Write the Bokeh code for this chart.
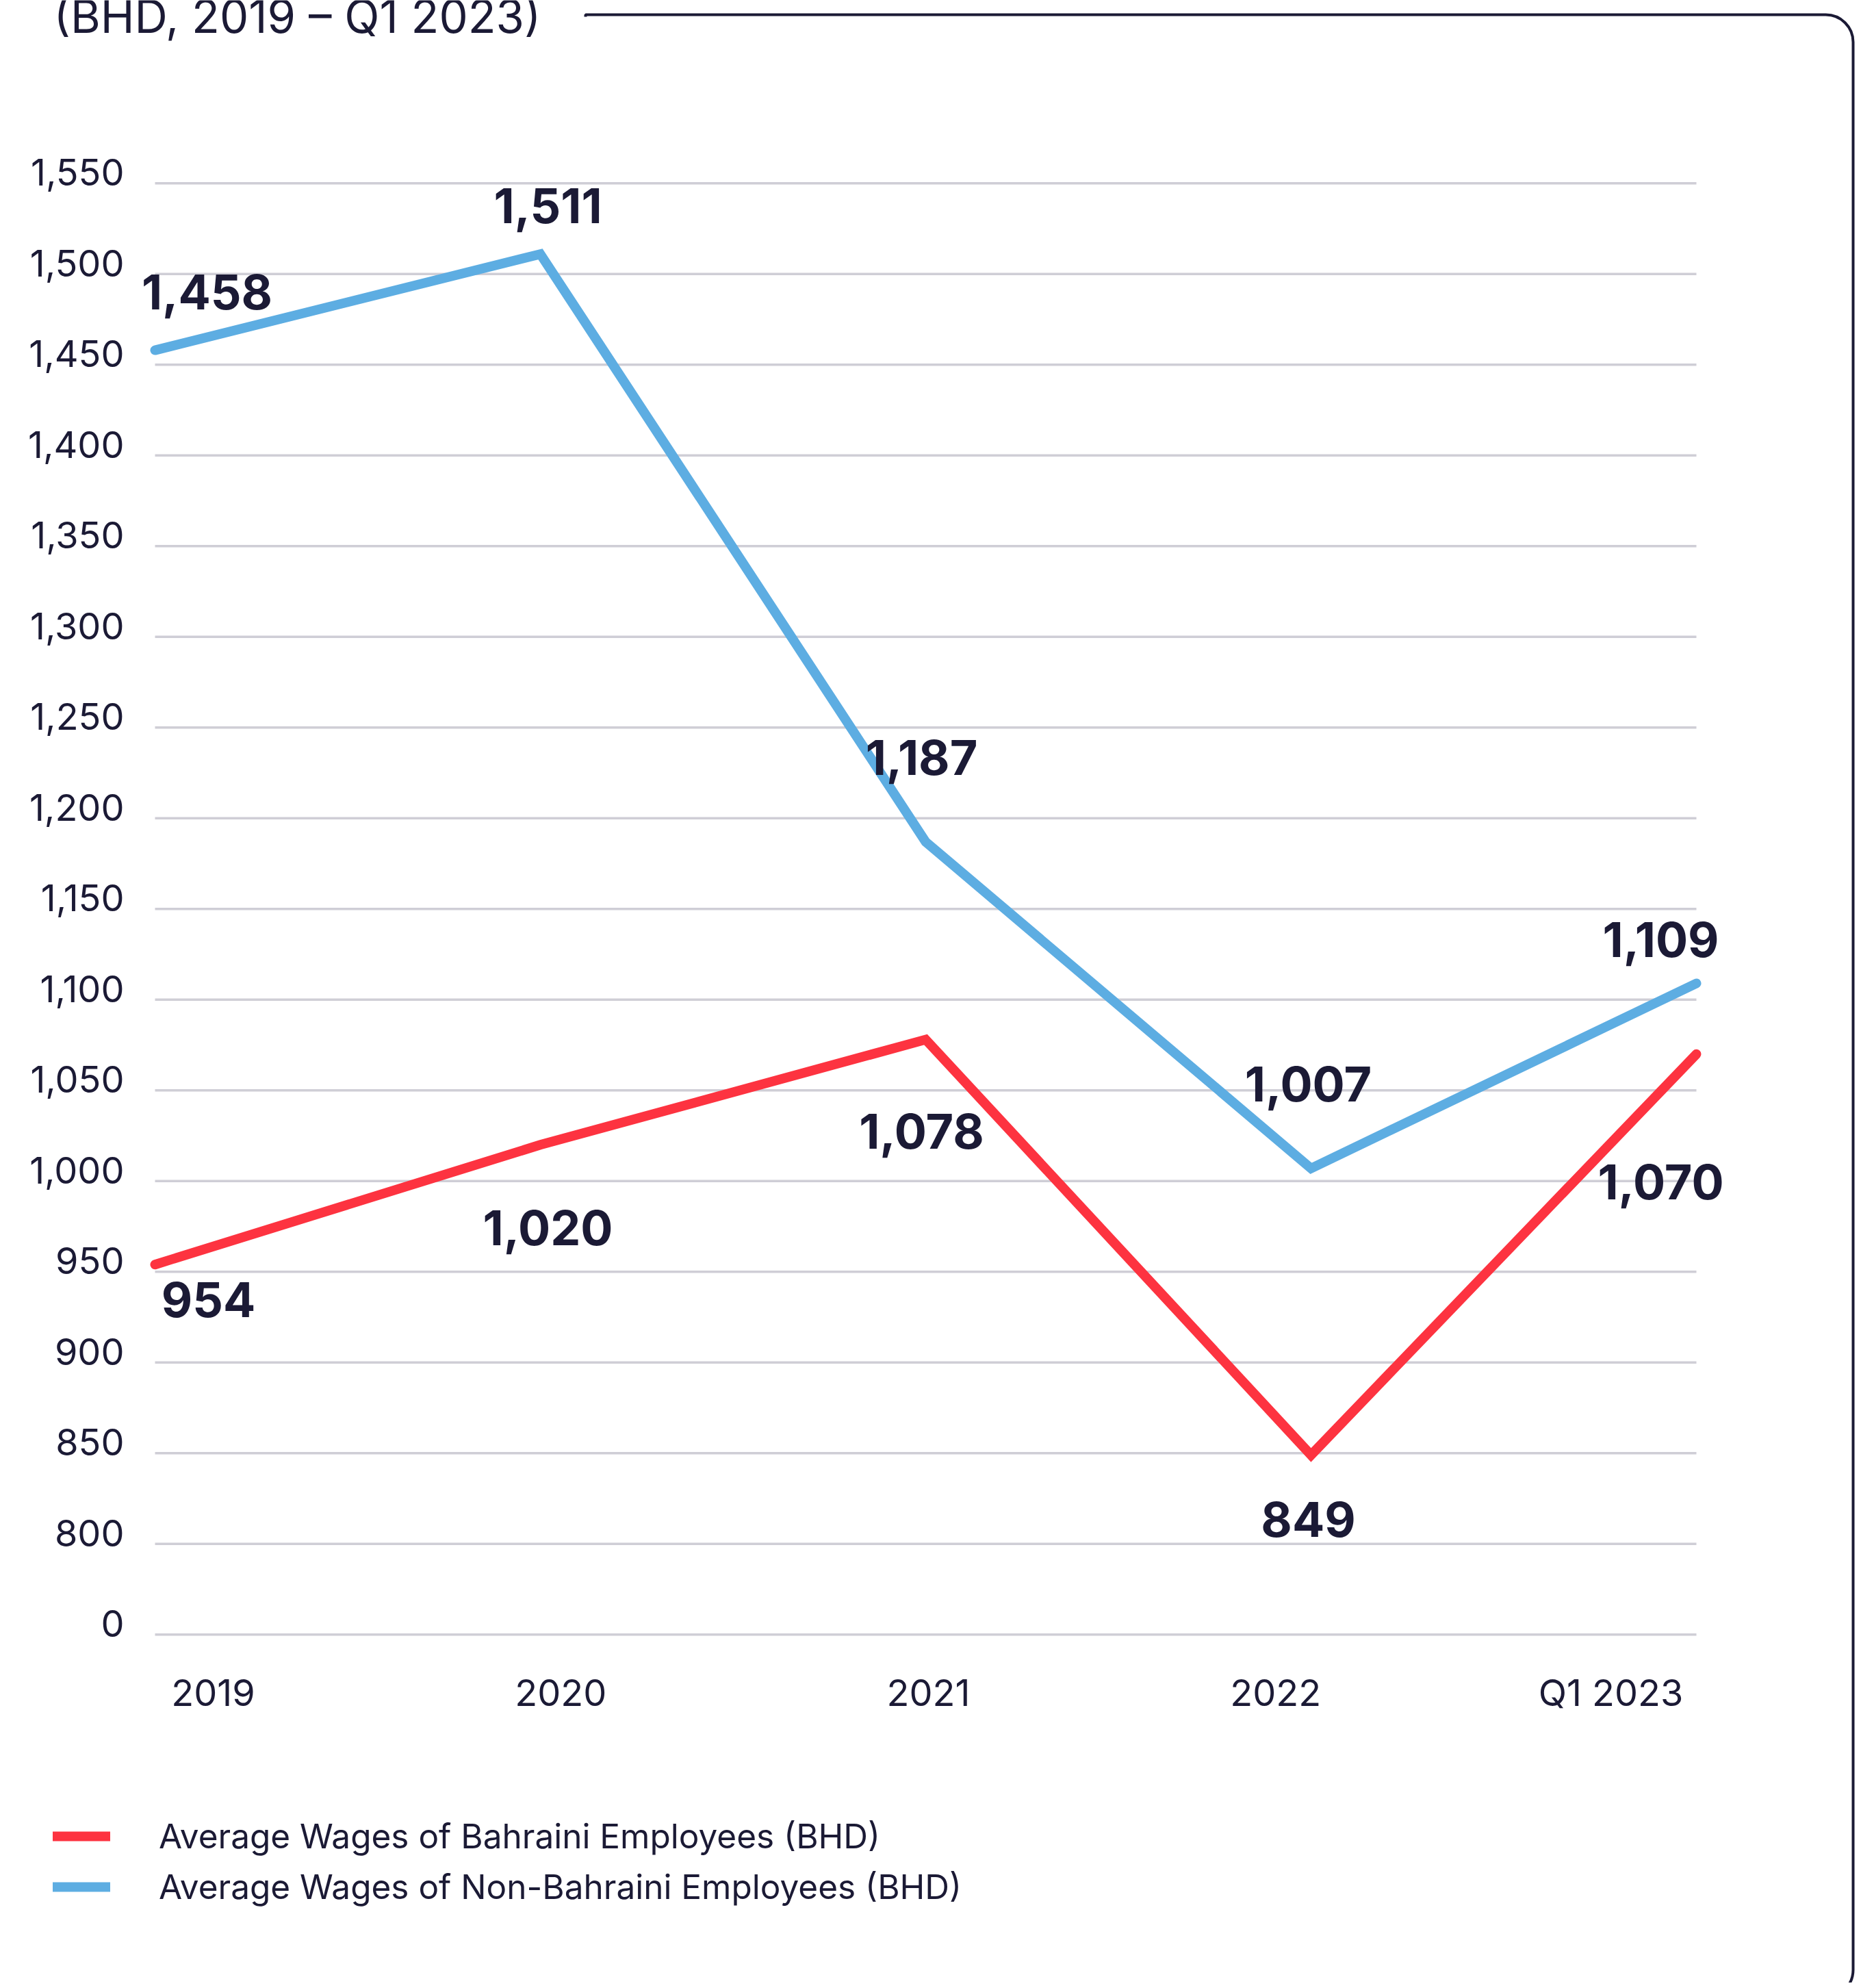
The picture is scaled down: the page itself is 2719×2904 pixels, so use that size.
from bokeh.plotting import figure
from bokeh.models import (Range1d, FixedTicker, Legend, LegendItem, ColumnDataSource,
                          BoxAnnotation, Label)
from bokeh.core.properties import value
from bokeh.embed import file_html
from bokeh.resources import INLINE

# ---------------- data ----------------
categories = ["2019", "2020", "2021", "2022", "Q1 2023"]
bahraini = [954, 1020, 1078, 849, 1070]
non_bahraini = [1458, 1511, 1187, 1007, 1109]
series_names = ["Average Wages of Bahraini Employees (BHD)",
                "Average Wages of Non-Bahraini Employees (BHD)"]
y_ticks = [750, 800, 850, 900, 950, 1000, 1050, 1100, 1150, 1200,
           1250, 1300, 1350, 1400, 1450, 1500, 1550]
y_tick_labels = ["0", "800", "850", "900", "950", "1,000", "1,050", "1,100", "1,150",
                 "1,200", "1,250", "1,300", "1,350", "1,400", "1,450", "1,500", "1,550"]
title_text = "(BHD, 2019 \u2013 Q1 2023)"

# ---------------- styling ----------------
NAVY = "#1b1a35"
RED = "#fd3340"
BLUE = "#5dade2"
GRID = "#cfced6"
FONT = "Inter"

W, H = 2711, 2896
X0_PX = 226            # canvas x of the first category
PX_PER_CAT = 563
PX_PER_UNIT = 2.65
TOP_GRID_PX = 267.3    # canvas y of the 1,550 grid line (from top)


def px_to_x(px):
    return (px - X0_PX) / PX_PER_CAT


def py_to_y(py):
    return y_ticks[-1] - (py - TOP_GRID_PX) / PX_PER_UNIT


# label placement (screen px offsets from each point)
blue_offsets = [(76, -85), (11, -71), (-6, -123), (-4, -123), (-52, -64)]
red_offsets = [(78, 51), (11, 121), (-6, 134), (-4, 94), (-52, 187)]
x_label_shift = [0.151, 0.053, 0.007, -0.092, -0.222]
y_label_lift = 16 / PX_PER_UNIT

xs = list(range(len(categories)))
src = ColumnDataSource(dict(
    x=xs, bahraini=bahraini, non_bahraini=non_bahraini,
    b_txt=[f"{v:,}" for v in bahraini], n_txt=[f"{v:,}" for v in non_bahraini],
    b_dx=[o[0] for o in red_offsets], b_dy=[o[1] for o in red_offsets],
    n_dx=[o[0] for o in blue_offsets], n_dy=[o[1] for o in blue_offsets],
))

p = figure(width=W, height=H,
           x_range=Range1d(px_to_x(0), px_to_x(W)), y_range=Range1d(py_to_y(H), py_to_y(0)),
           output_backend="svg", toolbar_location=None, title=None,
           min_border=0, min_border_left=0, min_border_right=0, min_border_top=0, min_border_bottom=0)
p.outline_line_color = None
p.background_fill_color = "white"
p.border_fill_color = "white"
p.xgrid.visible = False
p.ygrid.visible = False

# rounded frame (top and right sides) behind the chart, screen units from bottom-left
p.add_layout(BoxAnnotation(left=855, right=2707, top=H - 21, bottom=H - 2917,
                           left_units="screen", right_units="screen",
                           top_units="screen", bottom_units="screen",
                           fill_alpha=0, line_color=NAVY, line_alpha=1.0, line_width=4,
                           border_radius=(0, 40, 40, 0), level="underlay"))
# hide the frame's left side, keeping only the top rule after the title
p.add_layout(BoxAnnotation(left=850, right=861, top=H - 24, bottom=-100,
                           left_units="screen", right_units="screen",
                           top_units="screen", bottom_units="screen",
                           fill_color="white", fill_alpha=1, line_alpha=0, level="underlay"))

# grid lines spanning the categories
p.segment(x0=[xs[0]] * len(y_ticks), x1=[xs[-1]] * len(y_ticks), y0=y_ticks, y1=y_ticks,
          line_color=GRID, line_width=3.5)

red_line = p.line(x="x", y="bahraini", source=src, line_color=RED, line_width=14,
                  line_cap="round", line_join="miter")
blue_line = p.line(x="x", y="non_bahraini", source=src, line_color=BLUE, line_width=14,
                   line_cap="round", line_join="miter")

for txt, dx, dy, yv in (("b_txt", "b_dx", "b_dy", "bahraini"), ("n_txt", "n_dx", "n_dy", "non_bahraini")):
    p.text(x="x", y=yv, text=txt, x_offset=dx, y_offset=dy, source=src,
           text_font=value(FONT), text_font_style="bold", text_font_size="70px",
           text_color=NAVY, text_align="center", text_baseline="middle")

# axes drawn at fixed positions inside the canvas
x_tick_pos = [round(i + s, 3) for i, s in zip(xs, x_label_shift)]
p.xaxis.ticker = FixedTicker(ticks=x_tick_pos)
p.xaxis.major_label_overrides = {t: c for t, c in zip(x_tick_pos, categories)}
p.xaxis.fixed_location = py_to_y(2401)
y_tick_pos = [round(t + y_label_lift, 3) for t in y_ticks]
p.yaxis.ticker = FixedTicker(ticks=y_tick_pos)
p.yaxis.major_label_overrides = {t: l for t, l in zip(y_tick_pos, y_tick_labels)}
p.yaxis.fixed_location = px_to_x(200)
for ax in (p.xaxis, p.yaxis):
    ax.axis_line_color = None
    ax.major_tick_line_color = None
    ax.minor_tick_line_color = None
    ax.major_tick_out = 0
    ax.major_tick_in = 0
    ax.major_label_text_font = FONT
    ax.major_label_text_font_size = "54px"
    ax.major_label_text_color = NAVY
p.yaxis.major_label_standoff = 19
p.xaxis.major_label_standoff = 38

p.add_layout(Label(x=78, y=H - 23, x_units="screen", y_units="screen", text=title_text,
                   text_font=FONT, text_font_size="67px", text_color=NAVY,
                   text_baseline="alphabetic", text_align="left"))

legend = Legend(items=[LegendItem(label=series_names[0], renderers=[red_line]),
                       LegendItem(label=series_names[1], renderers=[blue_line])],
                location=(77, H - 2790), orientation="vertical",
                glyph_width=84, glyph_height=68, label_height=68, label_standoff=71,
                spacing=6, padding=0, margin=0, border_line_alpha=0, background_fill_alpha=0,
                label_text_font=FONT, label_text_font_size="49.5px", label_text_color=NAVY)
p.add_layout(legend)

open("out.html", "w").write(file_html(p, INLINE))
